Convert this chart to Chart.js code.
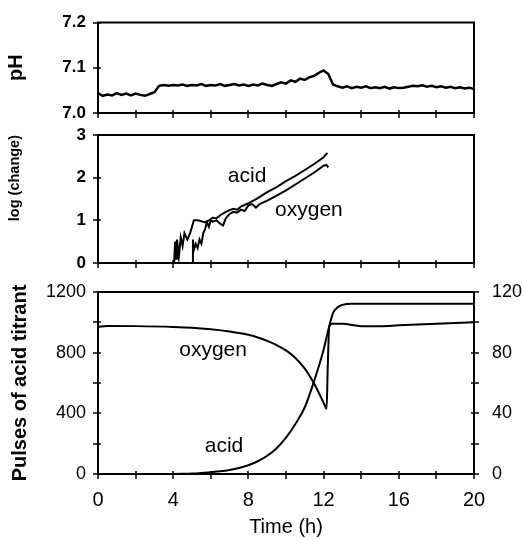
<!DOCTYPE html>
<html>
<head>
<meta charset="utf-8">
<script src="https://cdn.jsdelivr.net/npm/chart.js@4.4.1/dist/chart.umd.min.js"></script>
<style>
  body { margin: 0; background: #fff; }
  #wrap { position: relative; width: 523px; height: 539px; }
  canvas { position: absolute; left: 0; }
</style>
</head>
<body>
<div id="wrap">
  <canvas id="phChart" width="523" height="120" style="top:0"></canvas>
  <canvas id="logChart" width="523" height="150" style="top:120px"></canvas>
  <canvas id="pulseChart" width="523" height="269" style="top:270px"></canvas>
</div>
<script>
// pH trace (h, pH)
const phHours = [0, 0.25, 0.5, 0.75, 1, 1.25, 1.5, 1.75, 2, 2.25, 2.5, 2.75, 3, 3.25, 3.5, 3.75,
  4, 4.25, 4.5, 4.75, 5, 5.25, 5.5, 5.75, 6, 6.25, 6.5, 6.75, 7, 7.25, 7.5, 7.75,
  8, 8.25, 8.5, 8.75, 9, 9.25, 9.5, 9.75, 10, 10.25, 10.5, 10.75, 11, 11.25, 11.5, 11.75,
  12, 12.25, 12.5, 12.75, 13, 13.25, 13.5, 13.75, 14, 14.25, 14.5, 14.75, 15, 15.25, 15.5, 15.75,
  16, 16.25, 16.5, 16.75, 17, 17.25, 17.5, 17.75, 18, 18.25, 18.5, 18.75, 19, 19.25, 19.5, 19.75, 20];
const phValues = [7.044, 7.038, 7.041, 7.039, 7.044, 7.040, 7.043, 7.039, 7.043, 7.040, 7.038, 7.042, 7.046, 7.060, 7.062, 7.060,
  7.062, 7.061, 7.063, 7.060, 7.062, 7.061, 7.064, 7.060, 7.062, 7.061, 7.064, 7.060, 7.062, 7.064, 7.061, 7.063,
  7.060, 7.063, 7.061, 7.065, 7.062, 7.060, 7.064, 7.068, 7.065, 7.072, 7.069, 7.076, 7.073, 7.079, 7.082, 7.089,
  7.094, 7.086, 7.063, 7.059, 7.056, 7.059, 7.055, 7.058, 7.056, 7.059, 7.055, 7.057, 7.055, 7.058, 7.054, 7.057,
  7.055, 7.056, 7.058, 7.060, 7.059, 7.061, 7.058, 7.060, 7.057, 7.059, 7.056, 7.058, 7.055, 7.057, 7.054, 7.056, 7.053];

// log (change)
const acidLogHours = [4.05, 4.1, 4.15, 4.2, 4.3, 4.4, 4.5, 4.6, 4.75, 4.9, 5.0, 5.1, 5.3, 5.5, 5.7, 5.9, 6.1, 6.3, 6.5, 6.8,
  7.0, 7.2, 7.4, 7.6, 8, 8.5, 9, 9.5, 10, 10.5, 11, 11.5, 12, 12.2];
const acidLogValues = [0, 0.5, 0.1, 0.55, 0.15, 0.6, 0.4, 0.7, 0.55, 0.7, 0.85, 1.0, 1.0, 0.98, 0.95, 1.0, 1.06, 1.05, 1.12, 1.2,
  1.24, 1.27, 1.25, 1.32, 1.4, 1.52, 1.66, 1.78, 1.92, 2.04, 2.18, 2.32, 2.48, 2.58];
const oxyLogHours = [5.0, 5.05, 5.1, 5.2, 5.3, 5.4, 5.5, 5.6, 5.7, 5.8, 5.9, 6.0, 6.1, 6.3, 6.5, 6.65, 6.8, 7.0, 7.2, 7.4,
  7.6, 7.8, 8.0, 8.2, 8.4, 8.6, 9, 9.5, 10, 10.5, 11, 11.5, 12, 12.15, 12.25];
const oxyLogValues = [0, 0.55, 0.3, 0.45, 0.35, 0.55, 0.45, 0.7, 0.8, 0.95, 0.85, 1.0, 0.97, 1.0, 0.92, 0.88, 1.05, 1.15, 1.2, 1.18,
  1.25, 1.22, 1.35, 1.38, 1.3, 1.38, 1.46, 1.58, 1.7, 1.84, 1.98, 2.12, 2.28, 2.3, 2.24];

// pulses of acid titrant (left axis)
const acidHours = [0, 1, 2, 3, 4, 4.5, 5, 5.5, 6, 6.5, 7, 7.5, 8, 8.5, 9, 9.5, 10, 10.5, 11, 11.5, 12, 12.25, 12.5, 12.75,
  13, 13.5, 14, 15, 16, 17, 18, 19, 20];
const acidPulses = [0, 0, 0, 0, 0, 1, 3, 7, 12, 18, 27, 40, 58, 84, 120, 170, 240, 330, 440, 615, 820, 950, 1060, 1100,
  1115, 1122, 1122, 1122, 1122, 1122, 1122, 1122, 1122];

// oxygen (right axis)
const oxyHours = [0, 0.5, 2, 4, 5, 6, 7, 8, 8.5, 9, 9.5, 10, 10.5, 11, 11.5, 12, 12.16, 12.22, 12.3, 12.45,
  13, 14, 15, 16, 17, 18, 19, 20];
const oxyPercent = [97, 97.6, 97.5, 97, 96.5, 95.5, 94, 91.8, 90, 87.8, 85, 81.5, 76.5, 69.5, 59.5, 47, 43, 70, 97, 99,
  99, 97.5, 97.5, 98, 98.5, 99, 99.5, 100];

const xTicks = [0, 4, 8, 12, 16, 20];
const FONT = 'Liberation Sans';

function pts(xs, ys) {
  return xs.map((x, i) => ({ x: x, y: ys[i] }));
}

// frame, crossing tick marks and in-plot labels
const framePlugin = {
  id: 'frame',
  afterDraw(chart, args, opts) {
    const ctx = chart.ctx;
    const a = chart.chartArea;
    ctx.save();
    ctx.strokeStyle = '#000';
    ctx.lineWidth = 2;
    ctx.strokeRect(a.left, a.top, a.right - a.left, a.bottom - a.top);
    ctx.lineWidth = 1.5;
    Object.values(chart.scales).forEach(s => {
      s.ticks.forEach(t => {
        const p = Math.round(s.getPixelForValue(t.value));
        ctx.beginPath();
        if (s.axis === 'x') {
          ctx.moveTo(p, a.bottom - 3); ctx.lineTo(p, a.bottom + 5);
        } else if (s.position === 'left') {
          ctx.moveTo(a.left - 5, p); ctx.lineTo(a.left + 3, p);
        } else {
          ctx.moveTo(a.right - 3, p); ctx.lineTo(a.right + 5, p);
        }
        ctx.stroke();
      });
    });
    ctx.fillStyle = '#000';
    ctx.font = '21px "' + FONT + '"';
    ctx.textAlign = 'center';
    ctx.textBaseline = 'middle';
    (opts.labels || []).forEach(l => {
      const x = chart.scales.x.getPixelForValue(l.x);
      const y = chart.scales[l.axis || 'y'].getPixelForValue(l.y);
      ctx.fillText(l.text, x, y);
    });
    ctx.restore();
  }
};

function timeAxis(showLabels, h) {
  return {
    type: 'linear', min: 0, max: 20,
    ticks: {
      stepSize: 2, autoSkip: false, display: showLabels, padding: 14, color: '#000',
      font: { family: FONT, size: 20 },
      callback: v => xTicks.includes(v) ? v : ''
    },
    grid: { display: false, drawTicks: false },
    border: { display: false },
    title: {
      display: showLabels, text: 'Time (h)', color: '#000',
      font: { family: FONT, size: 20 }, padding: { top: 0, bottom: 0 }
    },
    afterFit: s => { s.height = h; s.paddingLeft = 0; s.paddingRight = 0; }
  };
}

function valueAxis(opt) {
  return {
    type: 'linear', position: opt.position || 'left', min: opt.min, max: opt.max,
    ticks: {
      stepSize: opt.step, autoSkip: false, padding: opt.padding || 12, color: '#000',
      font: { family: FONT, size: opt.size || 18, weight: opt.weight || 'normal' },
      callback: opt.format
    },
    grid: { display: false, drawTicks: false },
    border: { display: false },
    title: opt.title ? {
      display: true, text: opt.title, color: '#000', align: opt.titleAlign || 'center',
      font: { family: FONT, size: opt.titleSize, weight: 'bold' }, padding: { top: opt.titlePad }
    } : { display: false },
    afterFit: s => { s.width = opt.width; s.paddingTop = 0; s.paddingBottom = 0; }
  };
}

function lineSet(data, extra) {
  return Object.assign({
    data: data, borderColor: '#000', borderWidth: 2, pointRadius: 0, fill: false, tension: 0
  }, extra || {});
}

function baseOptions(padding, scales, labels) {
  return {
    responsive: false, animation: false, devicePixelRatio: 1, events: [],
    layout: { padding: padding },
    plugins: { legend: { display: false }, tooltip: { enabled: false }, frame: { labels: labels } },
    scales: scales
  };
}

new Chart(document.getElementById('phChart'), {
  type: 'line',
  data: { datasets: [lineSet(pts(phHours, phValues), { borderWidth: 2.5 })] },
  options: baseOptions({ top: 22.5, bottom: 0, left: 0, right: 49 }, {
    x: timeAxis(false, 7),
    y: valueAxis({ min: 7.0, max: 7.2, step: 0.1, width: 98, weight: 'bold', size: 17,
      format: v => v.toFixed(1), title: 'pH', titleSize: 20, titlePad: 4 })
  }, []),
  plugins: [framePlugin]
});

new Chart(document.getElementById('logChart'), {
  type: 'line',
  data: { datasets: [
    lineSet(pts(acidLogHours, acidLogValues)),
    lineSet(pts(oxyLogHours, oxyLogValues))
  ] },
  options: baseOptions({ top: 15, bottom: 0, left: 0, right: 49 }, {
    x: timeAxis(false, 7),
    y: valueAxis({ min: 0, max: 3, step: 1, width: 98, weight: 'bold', size: 17,
      format: v => v, title: 'log (change)', titleSize: 14.5, titlePad: 6, titleAlign: 'end' })
  }, [
    { text: 'acid', x: 7.93, y: 2.04 },
    { text: 'oxygen', x: 11.22, y: 1.24 }
  ]),
  plugins: [framePlugin]
});

new Chart(document.getElementById('pulseChart'), {
  type: 'line',
  data: { datasets: [
    lineSet(pts(acidHours, acidPulses), { yAxisID: 'y', cubicInterpolationMode: 'monotone' }),
    lineSet(pts(oxyHours, oxyPercent), { yAxisID: 'y2', cubicInterpolationMode: 'monotone' })
  ] },
  options: baseOptions({ top: 22, bottom: 0, left: 0, right: 0 }, {
    x: timeAxis(true, 65),
    y: valueAxis({ min: 0, max: 1200, step: 200, width: 98,
      format: v => v % 400 === 0 ? v : '', title: 'Pulses of acid titrant', titleSize: 20, titlePad: 8 }),
    y2: valueAxis({ position: 'right', min: 0, max: 120, step: 20, width: 49, padding: 18,
      format: v => v % 40 === 0 ? v : '' })
  }, [
    { text: 'oxygen', x: 6.12, y: 818 },
    { text: 'acid', x: 6.7, y: 185 }
  ]),
  plugins: [framePlugin]
});
</script>
</body>
</html>
